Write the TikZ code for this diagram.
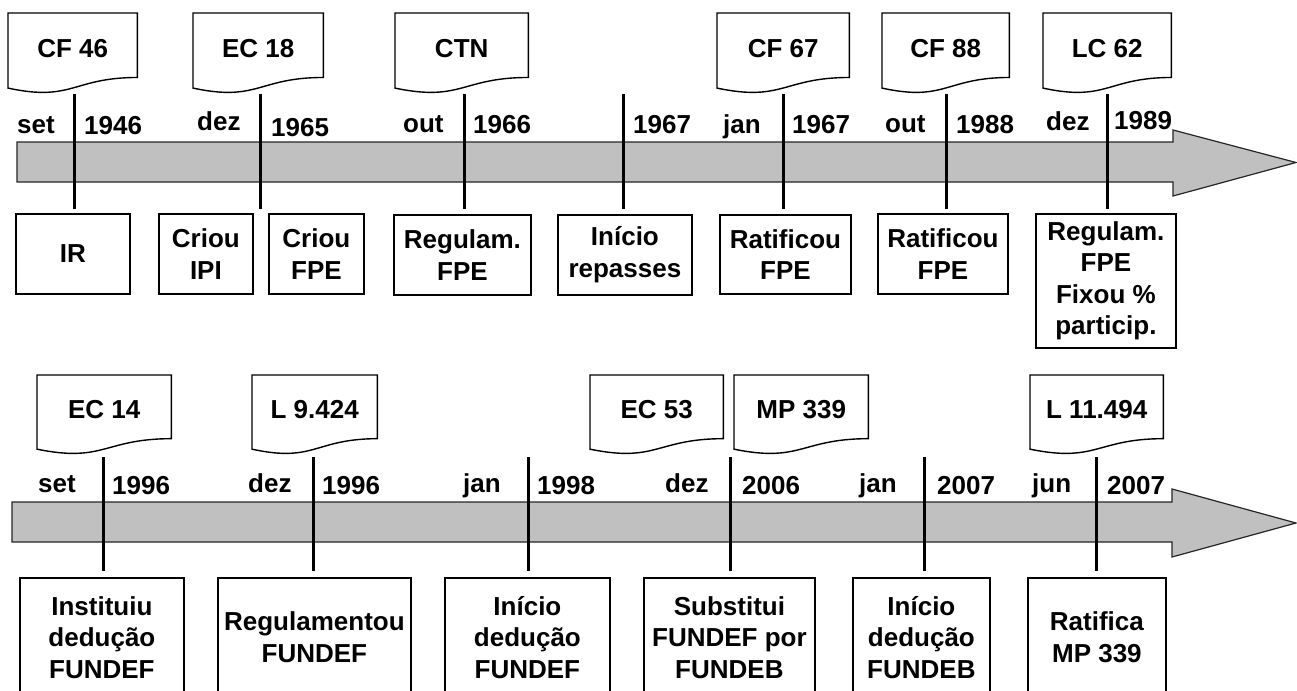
\documentclass[tikz,border=0pt]{standalone}
\usepackage{fontspec}
\setmainfont{Liberation Sans}
\usetikzlibrary{calc}
\tikzset{
  every node/.style={font=\bfseries\fontsize{26}{31.5}\selectfont, inner sep=0pt},
  band/.style={draw=black!85, line width=1.2pt, fill={rgb,255:red,192;green,192;blue,192}},
  tickline/.style={line width=3pt},
  evbox/.style={draw, line width=1.8pt, align=center, anchor=north west},
  docnode/.style={anchor=north west, text height=18pt, text depth=10pt, align=center},
  docline/.style={draw, line width=1.4pt},
  lab/.style={anchor=base west},
}
\newcommand\docoutline[1]{\draw[docline] (#1.north west) -- (#1.north east) -- ($(#1.north east)!0.802!(#1.south east)$) .. controls ($(#1.north)!0.802!(#1.south)$) and ($(#1.north)!1.1075!(#1.south)$) .. ($(#1.north west)!0.934!(#1.south west)$) -- cycle;}
\begin{document}
\begin{tikzpicture}[x=1pt,y=-1pt]
\useasboundingbox (0,0) rectangle (1297,690);
\clip (0,0) rectangle (1297,690);
\fill[white] (0,0) rectangle (1297,690);

% ---------- top timeline ----------
\draw[band] (17,142) -- (1173,142) -- (1173,130) -- (1296,162.5) -- (1173,196) -- (1173,182) -- (17,182) -- cycle;

\foreach \n/\x in {1/74, 2/260, 3/464, 4/623, 5/783, 6/946, 7/1107}{
  \coordinate (ta\n) at (\x,94);
  \coordinate (tb\n) at (\x,209);
}
\foreach \n in {1,...,7}{\draw[tickline] (ta\n) -- (tb\n);}

\node[lab] (l1)  at (17,133)   {set};
\node[lab] (l2)  at (84,134)   {1946};
\node[lab] (l3)  at (197,130.5){dez};
\node[lab] (l4)  at (271,136)  {1965};
\node[lab] (l5)  at (403,132)  {out};
\node[lab] (l6)  at (473,133)  {1966};
\node[lab] (l7)  at (633,133)  {1967};
\node[lab] (l8)  at (723,133)  {jan};
\node[lab] (l9)  at (792,133)  {1967};
\node[lab] (l10) at (885,132)  {out};
\node[lab] (l11) at (956,133)  {1988};
\node[lab] (l12) at (1046,131) {dez};
\node[lab] (l13) at (1114,129) {1989};

\node[docnode, minimum width=129, minimum height=80] (d1) at (8,13)    {CF 46};
\node[docnode, minimum width=130, minimum height=80] (d2) at (193,13)  {EC 18};
\node[docnode, minimum width=133, minimum height=80] (d3) at (395,13)  {CTN};
\node[docnode, minimum width=132, minimum height=80] (d4) at (717,13)  {CF 67};
\node[docnode, minimum width=127, minimum height=80] (d5) at (882,13)  {CF 88};
\node[docnode, minimum width=128, minimum height=80] (d6) at (1043,13) {LC 62};
\foreach \d in {d1,d2,d3,d4,d5,d6}{\docoutline{\d}}

\node[evbox, minimum width=114, minimum height=80] (b1) at (15,213)   {IR};
\node[evbox, minimum width=94,  minimum height=80] (b2) at (158,213)  {Criou\\IPI};
\node[evbox, minimum width=95,  minimum height=80] (b3) at (268,213)  {Criou\\FPE};
\node[evbox, minimum width=137, minimum height=80] (b4) at (393,214)  {Regulam.\\FPE};
\node[evbox, minimum width=134, minimum height=80] (b5) at (557,214)  {Início\\repasses};
\node[evbox, minimum width=131, minimum height=79] (b6) at (719,214)  {Ratificou\\FPE};
\node[evbox, minimum width=130, minimum height=80] (b7) at (877,213)  {Ratificou\\FPE};
\node[evbox, minimum width=140, minimum height=134] (b8) at (1035,213) {Regulam.\\FPE\\Fixou \%\\particip.};

% ---------- bottom timeline ----------
\draw[band] (12,502) -- (1172,502) -- (1172,489) -- (1296,523) -- (1172,557) -- (1172,542) -- (12,542) -- cycle;

\foreach \n/\x in {1/103, 2/313, 3/528, 4/730, 5/924, 6/1096}{
  \coordinate (ua\n) at (\x,457);
  \coordinate (ub\n) at (\x,571);
}
\foreach \n in {1,...,6}{\draw[tickline] (ua\n) -- (ub\n);}

\node[lab] (m1)  at (38,492.7)   {set};
\node[lab] (m2)  at (112,494.3)  {1996};
\node[lab] (m3)  at (248,492.3)  {dez};
\node[lab] (m4)  at (322,494.3)  {1996};
\node[lab] (m5)  at (463,492.7)  {jan};
\node[lab] (m6)  at (537,494.3)  {1998};
\node[lab] (m7)  at (665,492.3)  {dez};
\node[lab] (m8)  at (742,494.3)  {2006};
\node[lab] (m9)  at (859,492.7)  {jan};
\node[lab] (m10) at (937,494.3)  {2007};
\node[lab] (m11) at (1032,492.3) {jun};
\node[lab] (m12) at (1107,494.3) {2007};

\node[docnode, minimum width=134, minimum height=79] (e1) at (37,375)   {EC 14};
\node[docnode, minimum width=125, minimum height=79] (e2) at (252,375)  {L 9.424};
\node[docnode, minimum width=133, minimum height=79] (e3) at (590,375)  {EC 53};
\node[docnode, minimum width=134, minimum height=79] (e4) at (734,375)  {MP 339};
\node[docnode, minimum width=133, minimum height=79] (e5) at (1030,375) {L 11.494};
\foreach \d in {e1,e2,e3,e4,e5}{\docoutline{\d}}

\node[evbox, minimum width=164, minimum height=119] (c1) at (19,577)   {Instituiu\\dedução\\FUNDEF};
\node[evbox, minimum width=193, minimum height=119] (c2) at (217,577)  {Regulamentou\\FUNDEF};
\node[evbox, minimum width=165, minimum height=119] (c3) at (444,577)  {Início\\dedução\\FUNDEF};
\node[evbox, minimum width=171, minimum height=119] (c4) at (643,577)  {Substitui\\FUNDEF por\\FUNDEB};
\node[evbox, minimum width=137, minimum height=119] (c5) at (852,577)  {Início\\dedução\\FUNDEB};
\node[evbox, minimum width=138, minimum height=119] (c6) at (1027,577) {Ratifica\\MP 339};
\end{tikzpicture}
\end{document}
